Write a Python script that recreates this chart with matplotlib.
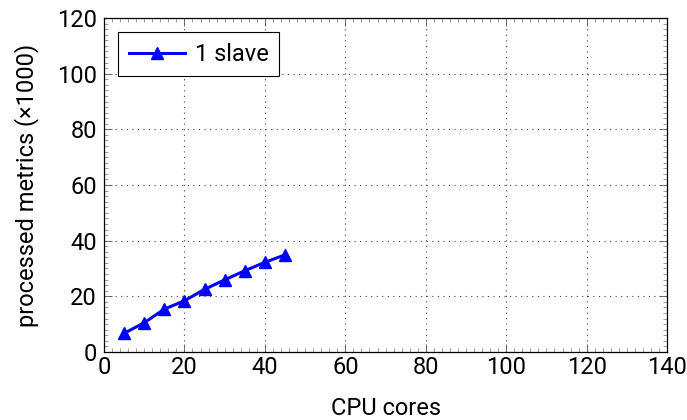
import matplotlib.pyplot as plt
from matplotlib.ticker import MultipleLocator

plt.rcParams['font.family'] = ['Roboto', 'DejaVu Sans']

cores = [5, 10, 15, 20, 25, 30, 35, 40, 45]
metrics = [6.7, 10.5, 15.4, 18.4, 22.5, 25.9, 29.2, 32.2, 34.9]
xticks = [0, 20, 40, 60, 80, 100, 120, 140]
yticks = [0, 20, 40, 60, 80, 100, 120]

fig = plt.figure(figsize=(6.87, 4.2), dpi=100)
ax = fig.add_axes([0.1514, 0.162, 0.8196, 0.795])

ax.plot(cores, metrics, color='#0000ff', lw=2.2, marker='^', ms=9,
        label='1 slave')

ax.set_xlim(0, 140)
ax.set_ylim(0, 120)
ax.set_xticks(xticks)
ax.set_yticks(yticks)
ax.xaxis.set_minor_locator(MultipleLocator(2))
ax.yaxis.set_minor_locator(MultipleLocator(2))
ax.tick_params(which='both', direction='in', top=True, right=True,
               labelsize=17, colors='black')
ax.tick_params(which='major', length=6, width=0.6, color='#555555')
ax.tick_params(which='minor', length=3, width=0.5, color='#777777')
ax.tick_params(axis='x', pad=3)
ax.tick_params(axis='y', pad=5)
for s in ax.spines.values():
    s.set_linewidth(0.9)

ax.grid(True, which='major', linestyle=(0, (1, 4)), color='#444444', lw=0.8)

ax.set_xlabel('CPU cores', fontsize=17, labelpad=13)
ax.set_ylabel('processed metrics (\u00d71000)', fontsize=17, labelpad=13)

leg = ax.legend(loc='upper left', fontsize=17, fancybox=False,
                edgecolor='black', framealpha=1, borderpad=0.45,
                handlelength=2.4, handletextpad=0.4, borderaxespad=0.6)
leg.get_frame().set_linewidth(0.8)

fig.savefig('out.png', dpi=100)
